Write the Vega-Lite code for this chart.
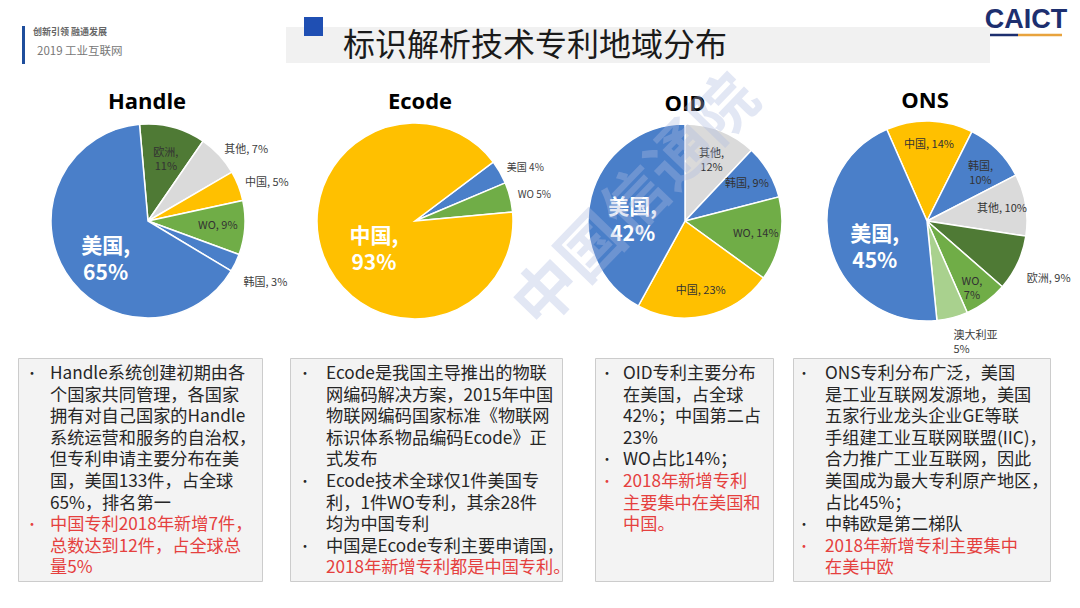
{
  "$schema": "https://vega.github.io/schema/vega-lite/v6.json",
  "background": "white",
  "padding": 0,
  "spacing": 0,
  "resolve": {"scale": {"color": "independent"}},
  "config": {"view": {"stroke": null}, "font": "Noto Sans CJK SC", "text": {"font": "Noto Sans CJK SC"}},
  "datasets": {
    "slices": [
      {"chart": "Handle", "seq": 1, "region": "欧洲", "pct": 11, "label": "欧洲,\n11%"},
      {"chart": "Handle", "seq": 2, "region": "其他", "pct": 7, "label": "其他, 7%"},
      {"chart": "Handle", "seq": 3, "region": "中国", "pct": 5, "label": "中国, 5%"},
      {"chart": "Handle", "seq": 4, "region": "WO", "pct": 9, "label": "WO, 9%"},
      {"chart": "Handle", "seq": 5, "region": "韩国", "pct": 3, "label": "韩国, 3%"},
      {"chart": "Handle", "seq": 6, "region": "美国", "pct": 65, "label": "美国,\n65%"},
      {"chart": "Ecode", "seq": 1, "region": "美国", "pct": 4, "label": "美国 4%"},
      {"chart": "Ecode", "seq": 2, "region": "WO", "pct": 5, "label": "WO  5%"},
      {"chart": "Ecode", "seq": 3, "region": "中国", "pct": 93, "label": "中国,\n93%"},
      {"chart": "OID", "seq": 1, "region": "其他", "pct": 12, "label": "其他,\n12%"},
      {"chart": "OID", "seq": 2, "region": "韩国", "pct": 9, "label": "韩国, 9%"},
      {"chart": "OID", "seq": 3, "region": "WO", "pct": 14, "label": "WO, 14%"},
      {"chart": "OID", "seq": 4, "region": "中国", "pct": 23, "label": "中国, 23%"},
      {"chart": "OID", "seq": 5, "region": "美国", "pct": 42, "label": "美国,\n42%"},
      {"chart": "ONS", "seq": 1, "region": "中国", "pct": 14, "label": "中国, 14%"},
      {"chart": "ONS", "seq": 2, "region": "韩国", "pct": 10, "label": "韩国,\n10%"},
      {"chart": "ONS", "seq": 3, "region": "其他", "pct": 10, "label": "其他, 10%"},
      {"chart": "ONS", "seq": 4, "region": "欧洲", "pct": 9, "label": "欧洲, 9%"},
      {"chart": "ONS", "seq": 5, "region": "WO", "pct": 7, "label": "WO,\n7%"},
      {"chart": "ONS", "seq": 6, "region": "澳大利亚", "pct": 5, "label": "澳大利亚\n5%"},
      {"chart": "ONS", "seq": 7, "region": "美国", "pct": 45, "label": "美国,\n45%"}
    ],
    "lines": [
      {"box": "Handle", "line": 1, "bullet": true, "kind": "info", "text": "Handle系统创建初期由各"},
      {"box": "Handle", "line": 2, "bullet": false, "kind": "info", "text": "个国家共同管理，各国家"},
      {"box": "Handle", "line": 3, "bullet": false, "kind": "info", "text": "拥有对自己国家的Handle"},
      {"box": "Handle", "line": 4, "bullet": false, "kind": "info", "text": "系统运营和服务的自治权，"},
      {"box": "Handle", "line": 5, "bullet": false, "kind": "info", "text": "但专利申请主要分布在美"},
      {"box": "Handle", "line": 6, "bullet": false, "kind": "info", "text": "国，美国133件，占全球"},
      {"box": "Handle", "line": 7, "bullet": false, "kind": "info", "text": "65%，排名第一"},
      {"box": "Handle", "line": 8, "bullet": true, "kind": "new2018", "text": "中国专利2018年新增7件，"},
      {"box": "Handle", "line": 9, "bullet": false, "kind": "new2018", "text": "总数达到12件，占全球总"},
      {"box": "Handle", "line": 10, "bullet": false, "kind": "new2018", "text": "量5%"},
      {"box": "Ecode", "line": 1, "bullet": true, "kind": "info", "text": "Ecode是我国主导推出的物联"},
      {"box": "Ecode", "line": 2, "bullet": false, "kind": "info", "text": "网编码解决方案，2015年中国"},
      {"box": "Ecode", "line": 3, "bullet": false, "kind": "info", "text": "物联网编码国家标准《物联网"},
      {"box": "Ecode", "line": 4, "bullet": false, "kind": "info", "text": "标识体系物品编码Ecode》正"},
      {"box": "Ecode", "line": 5, "bullet": false, "kind": "info", "text": "式发布"},
      {"box": "Ecode", "line": 6, "bullet": true, "kind": "info", "text": "Ecode技术全球仅1件美国专"},
      {"box": "Ecode", "line": 7, "bullet": false, "kind": "info", "text": "利，1件WO专利，其余28件"},
      {"box": "Ecode", "line": 8, "bullet": false, "kind": "info", "text": "均为中国专利"},
      {"box": "Ecode", "line": 9, "bullet": true, "kind": "info", "text": "中国是Ecode专利主要申请国，"},
      {"box": "Ecode", "line": 10, "bullet": false, "kind": "new2018", "text": "2018年新增专利都是中国专利。"},
      {"box": "OID", "line": 1, "bullet": true, "kind": "info", "text": "OID专利主要分布"},
      {"box": "OID", "line": 2, "bullet": false, "kind": "info", "text": "在美国，占全球"},
      {"box": "OID", "line": 3, "bullet": false, "kind": "info", "text": "42%；中国第二占"},
      {"box": "OID", "line": 4, "bullet": false, "kind": "info", "text": "23%"},
      {"box": "OID", "line": 5, "bullet": true, "kind": "info", "text": "WO占比14%；"},
      {"box": "OID", "line": 6, "bullet": true, "kind": "new2018", "text": "2018年新增专利"},
      {"box": "OID", "line": 7, "bullet": false, "kind": "new2018", "text": "主要集中在美国和"},
      {"box": "OID", "line": 8, "bullet": false, "kind": "new2018", "text": "中国。"},
      {"box": "ONS", "line": 1, "bullet": true, "kind": "info", "text": "ONS专利分布广泛，美国"},
      {"box": "ONS", "line": 2, "bullet": false, "kind": "info", "text": "是工业互联网发源地，美国"},
      {"box": "ONS", "line": 3, "bullet": false, "kind": "info", "text": "五家行业龙头企业GE等联"},
      {"box": "ONS", "line": 4, "bullet": false, "kind": "info", "text": "手组建工业互联网联盟(IIC)，"},
      {"box": "ONS", "line": 5, "bullet": false, "kind": "info", "text": "合力推广工业互联网，因此"},
      {"box": "ONS", "line": 6, "bullet": false, "kind": "info", "text": "美国成为最大专利原产地区，"},
      {"box": "ONS", "line": 7, "bullet": false, "kind": "info", "text": "占比45%；"},
      {"box": "ONS", "line": 8, "bullet": true, "kind": "info", "text": "中韩欧是第二梯队"},
      {"box": "ONS", "line": 9, "bullet": true, "kind": "new2018", "text": "2018年新增专利主要集中"},
      {"box": "ONS", "line": 10, "bullet": false, "kind": "new2018", "text": "在美中欧"}
    ]
  },
  "vconcat": [
    {
      "width": 1080,
      "height": 65,
      "data": {"values": [{"slide": "标识解析技术专利地域分布"}]},
      "layer": [
        {"mark": {"type": "rect", "color": "#f1f1f1"}, "encoding": {"x": {"value": 286}, "x2": {"value": 990}, "y": {"value": 27}, "y2": {"value": 63}}},
        {"mark": {"type": "rect", "color": "#1f4fb3"}, "encoding": {"x": {"value": 304}, "x2": {"value": 323}, "y": {"value": 17}, "y2": {"value": 36}}},
        {"mark": {"type": "rect", "color": "#1f4e9c"}, "encoding": {"x": {"value": 22}, "x2": {"value": 25}, "y": {"value": 26}, "y2": {"value": 64}}},
        {"mark": {"type": "text", "align": "left", "baseline": "middle", "fontSize": 32, "color": "#1a1a1a"}, "encoding": {"text": {"field": "slide"}, "x": {"value": 343}, "y": {"value": 46}}},
        {"mark": {"type": "text", "align": "left", "baseline": "middle", "fontSize": 9, "fontWeight": "bold", "color": "#666666", "text": "创新引领 融通发展"}, "encoding": {"x": {"value": 33}, "y": {"value": 32}}},
        {"mark": {"type": "text", "align": "left", "baseline": "middle", "fontSize": 11.5, "color": "#777777", "text": "2019 工业互联网"}, "encoding": {"x": {"value": 37}, "y": {"value": 52}}},
        {"mark": {"type": "text", "align": "center", "baseline": "middle", "fontSize": 27, "fontWeight": "bold", "font": "Liberation Sans", "color": "#1d2f6f", "text": "CAICT"}, "encoding": {"x": {"value": 1026}, "y": {"value": 20}}},
        {"mark": {"type": "rule", "color": "#1d2f6f", "strokeWidth": 2.5}, "encoding": {"x": {"value": 990}, "x2": {"value": 1018}, "y": {"value": 35}}},
        {"mark": {"type": "rule", "color": "#e8a33d", "strokeWidth": 2.5}, "encoding": {"x": {"value": 1018}, "x2": {"value": 1062}, "y": {"value": 35}}}
      ]
    },
    {
      "hconcat": [
        {
          "width": 296, "height": 272,
          "data": {"name": "slices"},
          "transform": [{"filter": "datum.chart === 'Handle'"}],
          "layer": [
            {"mark": {"type": "arc", "radius": 97, "stroke": "white", "strokeWidth": 1.5},
             "encoding": {
               "theta": {"field": "pct", "type": "quantitative", "stack": true, "scale": {"range": [-0.0873, 6.1959]}},
               "order": {"field": "seq", "type": "quantitative"},
               "color": {"field": "region", "type": "nominal", "legend": null, "scale": {"domain": ["美国", "中国", "WO", "欧洲", "其他", "韩国", "澳大利亚"], "range": ["#4a7fc9", "#ffc000", "#70ad47", "#4f7a35", "#dadada", "#4a7fc9", "#a9d18e"]}}}},
            {"mark": {"type": "text", "radius": 50, "fontSize": 21, "fontWeight": "bold", "color": "white", "lineBreak": "\n", "lineHeight": 27},
             "encoding": {
               "theta": {"field": "pct", "type": "quantitative", "stack": true, "scale": {"range": [-0.0873, 6.1959]}},
               "order": {"field": "seq", "type": "quantitative"},
               "text": {"condition": {"test": "datum.pct >= 40", "field": "label"}, "value": ""}}},
            {"mark": {"type": "text", "radius": 70, "fontSize": 11, "color": "#333333", "lineBreak": "\n", "lineHeight": 14},
             "encoding": {
               "theta": {"field": "pct", "type": "quantitative", "stack": true, "scale": {"range": [-0.0873, 6.1959]}},
               "order": {"field": "seq", "type": "quantitative"},
               "text": {"condition": {"test": "indexof(['欧洲','WO'], datum.region) >= 0", "field": "label"}, "value": ""}}},
            {"mark": {"type": "text", "radius": 104, "align": "left", "fontSize": 11, "color": "#404040", "lineBreak": "\n", "lineHeight": 14},
             "encoding": {
               "theta": {"field": "pct", "type": "quantitative", "stack": true, "scale": {"range": [-0.0873, 6.1959]}},
               "order": {"field": "seq", "type": "quantitative"},
               "text": {"condition": {"test": "indexof(['其他','中国'], datum.region) >= 0", "field": "label"}, "value": ""}}},
            {"mark": {"type": "text", "radius": 106, "align": "left", "dy": 16, "fontSize": 11, "color": "#404040"},
             "encoding": {
               "theta": {"field": "pct", "type": "quantitative", "stack": true, "scale": {"range": [-0.0873, 6.1959]}},
               "order": {"field": "seq", "type": "quantitative"},
               "text": {"condition": {"test": "datum.region === '韩国'", "field": "label"}, "value": ""}}},
            {"data": {"values": [{"name": "Handle"}]},
             "mark": {"type": "text", "font": "Open Sans", "fontSize": 22, "fontWeight": "bold", "color": "#000000", "baseline": "middle"},
             "encoding": {"text": {"field": "name"}, "x": {"value": 147}, "y": {"value": 17}}}
          ]
        },
        {
          "width": 238, "height": 272,
          "data": {"name": "slices"},
          "transform": [{"filter": "datum.chart === 'Ecode'"}],
          "layer": [
            {"mark": {"type": "arc", "radius": 98, "stroke": "white", "strokeWidth": 1.5},
             "encoding": {
               "theta": {"field": "pct", "type": "quantitative", "stack": true, "scale": {"range": [0.925, 7.208]}},
               "order": {"field": "seq", "type": "quantitative"},
               "color": {"field": "region", "type": "nominal", "legend": null, "scale": {"domain": ["美国", "中国", "WO", "欧洲", "其他", "韩国", "澳大利亚"], "range": ["#4a7fc9", "#ffc000", "#70ad47", "#4f7a35", "#dadada", "#4a7fc9", "#a9d18e"]}}}},
            {"mark": {"type": "text", "radius": 44, "fontSize": 21, "fontWeight": "bold", "color": "white", "lineBreak": "\n", "lineHeight": 27},
             "encoding": {
               "theta": {"field": "pct", "type": "quantitative", "stack": true, "scale": {"range": [0.925, 7.208]}},
               "order": {"field": "seq", "type": "quantitative"},
               "text": {"condition": {"test": "datum.pct >= 40", "field": "label"}, "value": ""}}},
            {"mark": {"type": "text", "radius": 106, "align": "left", "fontSize": 10, "color": "#404040"},
             "encoding": {
               "theta": {"field": "pct", "type": "quantitative", "stack": true, "scale": {"range": [0.925, 7.208]}},
               "order": {"field": "seq", "type": "quantitative"},
               "text": {"condition": {"test": "datum.pct < 40", "field": "label"}, "value": ""}}},
            {"data": {"values": [{"name": "Ecode"}]},
             "mark": {"type": "text", "font": "Open Sans", "fontSize": 22, "fontWeight": "bold", "color": "#000000", "baseline": "middle"},
             "encoding": {"text": {"field": "name"}, "x": {"value": 124}, "y": {"value": 17}}}
          ]
        },
        {
          "width": 302, "height": 272,
          "data": {"name": "slices"},
          "transform": [{"filter": "datum.chart === 'OID'"}],
          "layer": [
            {"mark": {"type": "arc", "radius": 97, "stroke": "white", "strokeWidth": 1.5},
             "encoding": {
               "theta": {"field": "pct", "type": "quantitative", "stack": true, "scale": {"range": [0, 6.2832]}},
               "order": {"field": "seq", "type": "quantitative"},
               "color": {"field": "region", "type": "nominal", "legend": null, "scale": {"domain": ["美国", "中国", "WO", "欧洲", "其他", "韩国", "澳大利亚"], "range": ["#4a7fc9", "#ffc000", "#70ad47", "#4f7a35", "#dadada", "#4a7fc9", "#a9d18e"]}}}},
            {"mark": {"type": "text", "radius": 54, "fontSize": 21, "fontWeight": "bold", "color": "white", "lineBreak": "\n", "lineHeight": 27},
             "encoding": {
               "theta": {"field": "pct", "type": "quantitative", "stack": true, "scale": {"range": [0, 6.2832]}},
               "order": {"field": "seq", "type": "quantitative"},
               "text": {"condition": {"test": "datum.pct >= 40", "field": "label"}, "value": ""}}},
            {"mark": {"type": "text", "radius": 72, "fontSize": 11, "color": "#333333", "lineBreak": "\n", "lineHeight": 14},
             "encoding": {
               "theta": {"field": "pct", "type": "quantitative", "stack": true, "scale": {"range": [0, 6.2832]}},
               "order": {"field": "seq", "type": "quantitative"},
               "text": {"condition": {"test": "datum.pct < 40", "field": "label"}, "value": ""}}},
            {"data": {"values": [{"name": "OID"}]},
             "mark": {"type": "text", "font": "Open Sans", "fontSize": 22, "fontWeight": "bold", "color": "#000000", "baseline": "middle"},
             "encoding": {"text": {"field": "name"}, "x": {"value": 151}, "y": {"value": 19}}},
            {"data": {"values": [{"mark": "中国信通院"}]},
             "mark": {"type": "text", "angle": -46, "fontSize": 64, "fontWeight": "bold", "color": "#aebbe2", "opacity": 0.35, "baseline": "middle"},
             "encoding": {"text": {"field": "mark"}, "x": {"value": 104}, "y": {"value": 118}}}
          ]
        },
        {
          "width": 182, "height": 272,
          "data": {"name": "slices"},
          "transform": [{"filter": "datum.chart === 'ONS'"}],
          "layer": [
            {"mark": {"type": "arc", "radius": 100, "stroke": "white", "strokeWidth": 1.5},
             "encoding": {
               "theta": {"field": "pct", "type": "quantitative", "stack": true, "scale": {"range": [-0.4136, 5.8696]}},
               "order": {"field": "seq", "type": "quantitative"},
               "color": {"field": "region", "type": "nominal", "legend": null, "scale": {"domain": ["美国", "中国", "WO", "欧洲", "其他", "韩国", "澳大利亚"], "range": ["#4a7fc9", "#ffc000", "#70ad47", "#4f7a35", "#dadada", "#4a7fc9", "#a9d18e"]}}}},
            {"mark": {"type": "text", "radius": 54, "fontSize": 21, "fontWeight": "bold", "color": "white", "lineBreak": "\n", "lineHeight": 27},
             "encoding": {
               "theta": {"field": "pct", "type": "quantitative", "stack": true, "scale": {"range": [-0.4136, 5.8696]}},
               "order": {"field": "seq", "type": "quantitative"},
               "text": {"condition": {"test": "datum.pct >= 40", "field": "label"}, "value": ""}}},
            {"mark": {"type": "text", "radius": 76, "fontSize": 11, "color": "#333333", "lineBreak": "\n", "lineHeight": 14},
             "encoding": {
               "theta": {"field": "pct", "type": "quantitative", "stack": true, "scale": {"range": [-0.4136, 5.8696]}},
               "order": {"field": "seq", "type": "quantitative"},
               "text": {"condition": {"test": "indexof(['中国','韩国','其他','WO'], datum.region) >= 0", "field": "label"}, "value": ""}}},
            {"mark": {"type": "text", "radius": 110, "align": "left", "dy": 12, "fontSize": 11, "color": "#404040", "lineBreak": "\n", "lineHeight": 14},
             "encoding": {
               "theta": {"field": "pct", "type": "quantitative", "stack": true, "scale": {"range": [-0.4136, 5.8696]}},
               "order": {"field": "seq", "type": "quantitative"},
               "text": {"condition": {"test": "datum.region === '欧洲'", "field": "label"}, "value": ""}}},
            {"mark": {"type": "text", "radius": 104, "align": "left", "dy": 14, "fontSize": 11, "color": "#404040", "lineBreak": "\n", "lineHeight": 14},
             "encoding": {
               "theta": {"field": "pct", "type": "quantitative", "stack": true, "scale": {"range": [-0.4136, 5.8696]}},
               "order": {"field": "seq", "type": "quantitative"},
               "text": {"condition": {"test": "datum.region === '澳大利亚'", "field": "label"}, "value": ""}}},
            {"data": {"values": [{"name": "ONS"}]},
             "mark": {"type": "text", "font": "Open Sans", "fontSize": 22, "fontWeight": "bold", "color": "#000000", "baseline": "middle"},
             "encoding": {"text": {"field": "name"}, "x": {"value": 89}, "y": {"value": 16}}}
          ]
        }
      ],
      "spacing": 0,
      "bounds": "flush",
      "resolve": {"scale": {"theta": "independent"}}
    },
    {
      "hconcat": [
        {"width": 18, "height": 10, "data": {"values": [{}]}, "mark": {"type": "text", "text": ""}},
        {
          "width": 244, "height": 223,
          "view": {"fill": "#f3f3f3", "stroke": "#cccccc"},
          "data": {"name": "lines"},
          "transform": [{"filter": "datum.box === 'Handle'"}],
          "encoding": {
            "y": {"field": "line", "type": "quantitative", "scale": {"domain": [0.26, 10.58], "reverse": true, "nice": false, "zero": false}, "axis": null},
            "color": {"field": "kind", "type": "nominal", "legend": null, "scale": {"domain": ["info", "new2018"], "range": ["#262626", "#e5403e"]}}
          },
          "layer": [
            {"mark": {"type": "text", "align": "left", "baseline": "middle", "fontSize": 17.2}, "encoding": {"text": {"field": "text"}, "x": {"value": 32}}},
            {"transform": [{"filter": "datum.bullet"}], "mark": {"type": "text", "align": "center", "baseline": "middle", "fontSize": 13, "text": "•"}, "encoding": {"x": {"value": 14}}}
          ]
        },
        {"width": 28, "height": 10, "data": {"values": [{}]}, "mark": {"type": "text", "text": ""}},
        {
          "width": 272, "height": 223,
          "view": {"fill": "#f3f3f3", "stroke": "#cccccc"},
          "data": {"name": "lines"},
          "transform": [{"filter": "datum.box === 'Ecode'"}],
          "encoding": {
            "y": {"field": "line", "type": "quantitative", "scale": {"domain": [0.26, 10.58], "reverse": true, "nice": false, "zero": false}, "axis": null},
            "color": {"field": "kind", "type": "nominal", "legend": null, "scale": {"domain": ["info", "new2018"], "range": ["#262626", "#e5403e"]}}
          },
          "layer": [
            {"mark": {"type": "text", "align": "left", "baseline": "middle", "fontSize": 17.2}, "encoding": {"text": {"field": "text"}, "x": {"value": 36}}},
            {"transform": [{"filter": "datum.bullet"}], "mark": {"type": "text", "align": "center", "baseline": "middle", "fontSize": 13, "text": "•"}, "encoding": {"x": {"value": 15}}}
          ]
        },
        {"width": 33, "height": 10, "data": {"values": [{}]}, "mark": {"type": "text", "text": ""}},
        {
          "width": 178, "height": 223,
          "view": {"fill": "#f3f3f3", "stroke": "#cccccc"},
          "data": {"name": "lines"},
          "transform": [{"filter": "datum.box === 'OID'"}],
          "encoding": {
            "y": {"field": "line", "type": "quantitative", "scale": {"domain": [0.26, 10.58], "reverse": true, "nice": false, "zero": false}, "axis": null},
            "color": {"field": "kind", "type": "nominal", "legend": null, "scale": {"domain": ["info", "new2018"], "range": ["#262626", "#e5403e"]}}
          },
          "layer": [
            {"mark": {"type": "text", "align": "left", "baseline": "middle", "fontSize": 17.2}, "encoding": {"text": {"field": "text"}, "x": {"value": 28}}},
            {"transform": [{"filter": "datum.bullet"}], "mark": {"type": "text", "align": "center", "baseline": "middle", "fontSize": 13, "text": "•"}, "encoding": {"x": {"value": 12}}}
          ]
        },
        {"width": 20, "height": 10, "data": {"values": [{}]}, "mark": {"type": "text", "text": ""}},
        {
          "width": 257, "height": 223,
          "view": {"fill": "#f3f3f3", "stroke": "#cccccc"},
          "data": {"name": "lines"},
          "transform": [{"filter": "datum.box === 'ONS'"}],
          "encoding": {
            "y": {"field": "line", "type": "quantitative", "scale": {"domain": [0.26, 10.58], "reverse": true, "nice": false, "zero": false}, "axis": null},
            "color": {"field": "kind", "type": "nominal", "legend": null, "scale": {"domain": ["info", "new2018"], "range": ["#262626", "#e5403e"]}}
          },
          "layer": [
            {"mark": {"type": "text", "align": "left", "baseline": "middle", "fontSize": 17.2}, "encoding": {"text": {"field": "text"}, "x": {"value": 32}}},
            {"transform": [{"filter": "datum.bullet"}], "mark": {"type": "text", "align": "center", "baseline": "middle", "fontSize": 13, "text": "•"}, "encoding": {"x": {"value": 11}}}
          ]
        }
      ],
      "spacing": 0,
      "bounds": "flush"
    }
  ]
}
